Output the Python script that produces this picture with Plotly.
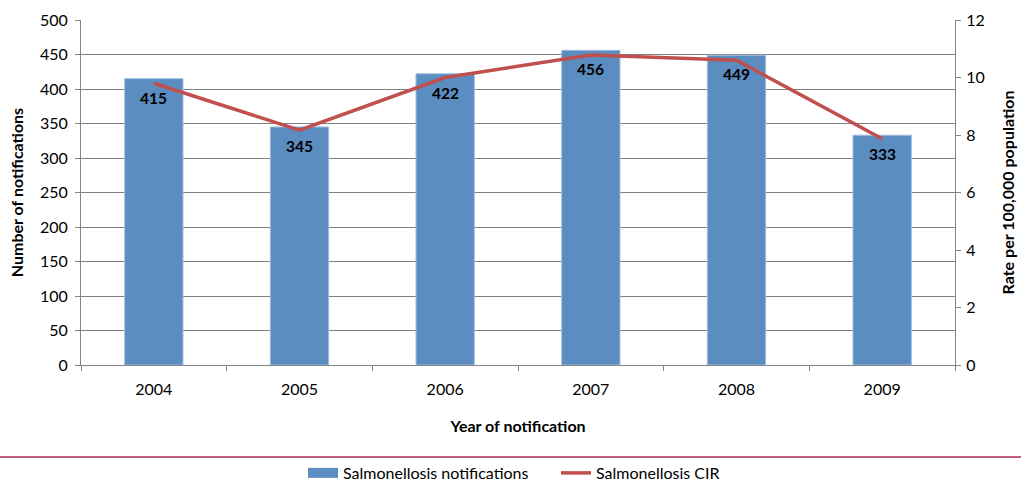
import plotly.graph_objects as go

years = ["2004", "2005", "2006", "2007", "2008", "2009"]
notifications = [415, 345, 422, 456, 449, 333]
cir = [9.8, 8.17, 10.0, 10.78, 10.6, 7.87]

FONT = "Lato, 'Open Sans', sans-serif"
BAR_COLOR = "#5B8DC1"
LINE_COLOR = "#C0504D"

fig = go.Figure()
fig.add_trace(go.Bar(
    x=years, y=notifications, name="Salmonellosis notifications",
    marker=dict(color=BAR_COLOR, line=dict(color="#9DBBDF", width=1)),
    showlegend=False, yaxis="y",
))
fig.add_trace(go.Scatter(
    x=years, y=cir, name="Salmonellosis CIR", mode="lines",
    line=dict(color=LINE_COLOR, width=3.5), yaxis="y2", showlegend=False,
))
# legend-only entries (wide swatches as in the reference)
fig.add_trace(go.Scatter(
    x=[years[0]], y=[None], mode="lines", name="Salmonellosis notifications",
    line=dict(color=BAR_COLOR, width=10), yaxis="y",
))
fig.add_trace(go.Scatter(
    x=[years[0]], y=[None], mode="lines", name="Salmonellosis CIR",
    line=dict(color=LINE_COLOR, width=3.5), yaxis="y2",
))

annotations = [
    dict(x=i, y=v, xref="x", yref="y", text="<b>%d</b>" % v, showarrow=False,
         yanchor="middle", yshift=-19, font=dict(family=FONT, size=15.5, color="black"))
    for i, v in enumerate(notifications)
]

fig.update_layout(
    width=1021, height=481,
    margin=dict(l=81, r=66, t=20, b=116, autoexpand=False),
    plot_bgcolor="white", paper_bgcolor="white",
    font=dict(family=FONT, size=16, color="black"),
    bargap=0.6,
    showlegend=True,
    legend=dict(orientation="h", x=(303 - 81) / 874, xanchor="left", y=-0.313, yanchor="middle",
                font=dict(size=16), traceorder="normal", itemwidth=30,
                entrywidth=208, bgcolor="rgba(0,0,0,0)"),
    xaxis=dict(
        type="category", categoryorder="array", categoryarray=years,
        range=[-0.5, len(years) - 0.5],
        showline=True, linecolor="#868686", linewidth=1,
        ticks="outside", ticklen=5, tickcolor="#868686", tickson="boundaries",
        showgrid=False, ticklabelstandoff=10, tickangle=0,
        title=dict(text="<b>Year of notification</b>", font=dict(size=16), standoff=23),
    ),
    yaxis=dict(
        range=[0, 500], dtick=50, showline=True, linecolor="#868686", linewidth=1,
        ticks="outside", ticklen=5, tickcolor="#868686",
        showgrid=True, gridcolor="#808080", gridwidth=1,
        zeroline=False, ticklabelstandoff=4,
        title=dict(text="<b>Number of notifications</b>", font=dict(size=16), standoff=12),
    ),
    yaxis2=dict(
        range=[0, 12], dtick=2, overlaying="y", side="right",
        showline=True, linecolor="#868686", linewidth=1,
        ticks="outside", ticklen=5, tickcolor="#868686",
        showgrid=False, zeroline=False, ticklabelstandoff=2,
        title=dict(text="<b>Rate per 100,000 population</b>", font=dict(size=16), standoff=19),
    ),
    annotations=annotations,
    shapes=[dict(type="line", xref="paper", yref="paper",
                 x0=-81/874, x1=(1021-81)/874, y0=-92/345, y1=-92/345,
                 line=dict(color="#A8284F", width=1.5))],
)

fig.write_html("out.html")
